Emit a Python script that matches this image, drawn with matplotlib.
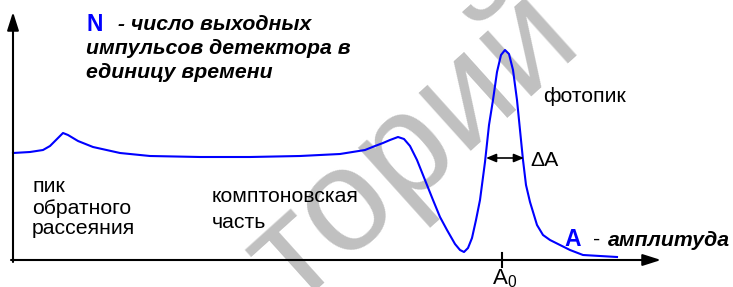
import numpy as np
import matplotlib.pyplot as plt

plt.rcParams['font.family'] = ['Liberation Sans', 'DejaVu Sans']
plt.rcParams['mathtext.fontset'] = 'custom'
plt.rcParams['mathtext.rm'] = 'Liberation Sans'

# spectrum (amplitude, count rate), arbitrary units
amplitude = [0, 17, 30, 37, 44, 50, 55, 65, 80, 107, 137, 187, 237, 287, 327,
             352, 362, 370, 377, 385, 391, 397, 404, 412, 420, 427, 434, 442,
             447, 451, 455, 459, 463, 467, 472, 476, 480, 484, 488, 492, 496,
             500, 504, 507, 510, 513, 517, 524, 530, 537, 547, 557, 570, 587, 604]
counts = [107, 108, 110, 114, 121, 127, 125, 119, 113, 107, 104, 103, 103, 104, 106,
          110, 114, 117, 120, 123, 121, 114, 100, 80, 60, 43, 30, 16,
          10, 8, 12, 22, 40, 60, 98, 135, 160, 188, 205, 210, 206,
          190, 160, 130, 100, 75, 58, 35, 25, 20, 15, 10, 5, 4, 3]
a0 = 489          # photopeak position
fwhm_left, fwhm_right, fwhm_level = 473, 511, 102

fig = plt.figure(figsize=(7.33, 2.87), dpi=100)
ax = fig.add_axes([0, 0, 1, 1])
ax.set_xlim(-13, 720)
ax.set_ylim(-27, 260)
ax.axis('off')

# watermark
ax.text(400, 112, 'торий', fontsize=105, color='#c0c0c0', rotation=42,
        ha='center', va='center', rotation_mode='anchor', zorder=0)

# axes with arrows
ax.annotate('', xy=(0, 248), xytext=(0, -2),
            arrowprops=dict(arrowstyle='-|>,head_length=1.1,head_width=0.35',
                            color='black', lw=1.5, shrinkA=0, shrinkB=0))
ax.annotate('', xy=(648, 0), xytext=(-2, 0),
            arrowprops=dict(arrowstyle='-|>,head_length=1.1,head_width=0.35',
                            color='black', lw=1.5, shrinkA=0, shrinkB=0))
ax.plot([a0, a0], [-7, 7], color='black', lw=1.5)

ax.plot(amplitude, counts, color='#0000ff', lw=1.5, solid_joinstyle='round')

ax.annotate('', xy=(fwhm_left, fwhm_level), xytext=(fwhm_right, fwhm_level),
            arrowprops=dict(arrowstyle='<|-|>,head_length=0.6,head_width=0.25',
                            color='black', lw=1.2, shrinkA=0, shrinkB=0))

# labels
fs = 15.3
ax.text(73, 235.5, 'N', color='#0000ff', fontsize=16.5, fontweight='bold', va='center')
ax.text(99, 236, ' - число выходных', fontsize=fs, fontweight='bold',
        fontstyle='italic', va='center')
ax.text(73, 212, 'импульсов детектора в', fontsize=fs, fontweight='bold',
        fontstyle='italic', va='center')
ax.text(73, 188, 'единицу времени', fontsize=fs, fontweight='bold',
        fontstyle='italic', va='center')

ax.text(530, 163, 'фотопик', fontsize=fs, va='center')
ax.text(517, 100, 'ΔA', fontsize=fs, va='center')
ax.text(19, 73, 'пик', fontsize=fs, va='center')
ax.text(19, 52, 'обратного', fontsize=fs, va='center')
ax.text(19, 31, 'рассеяния', fontsize=fs, va='center')
ax.text(199, 63, 'комптоновская', fontsize=fs, va='center')
ax.text(199, 38, 'часть', fontsize=fs, va='center')

ax.text(551, 20, 'A', color='#0000ff', fontsize=16.5, fontweight='bold', va='center')
ax.text(584, 21, '-', fontsize=fs, va='center', ha='center')
ax.text(595, 20, 'амплитуда', fontsize=fs, fontweight='bold',
        fontstyle='italic', va='center')
ax.text(479, -19, 'A$_0$', fontsize=16, va='center')

fig.savefig('out.png', dpi=100)
